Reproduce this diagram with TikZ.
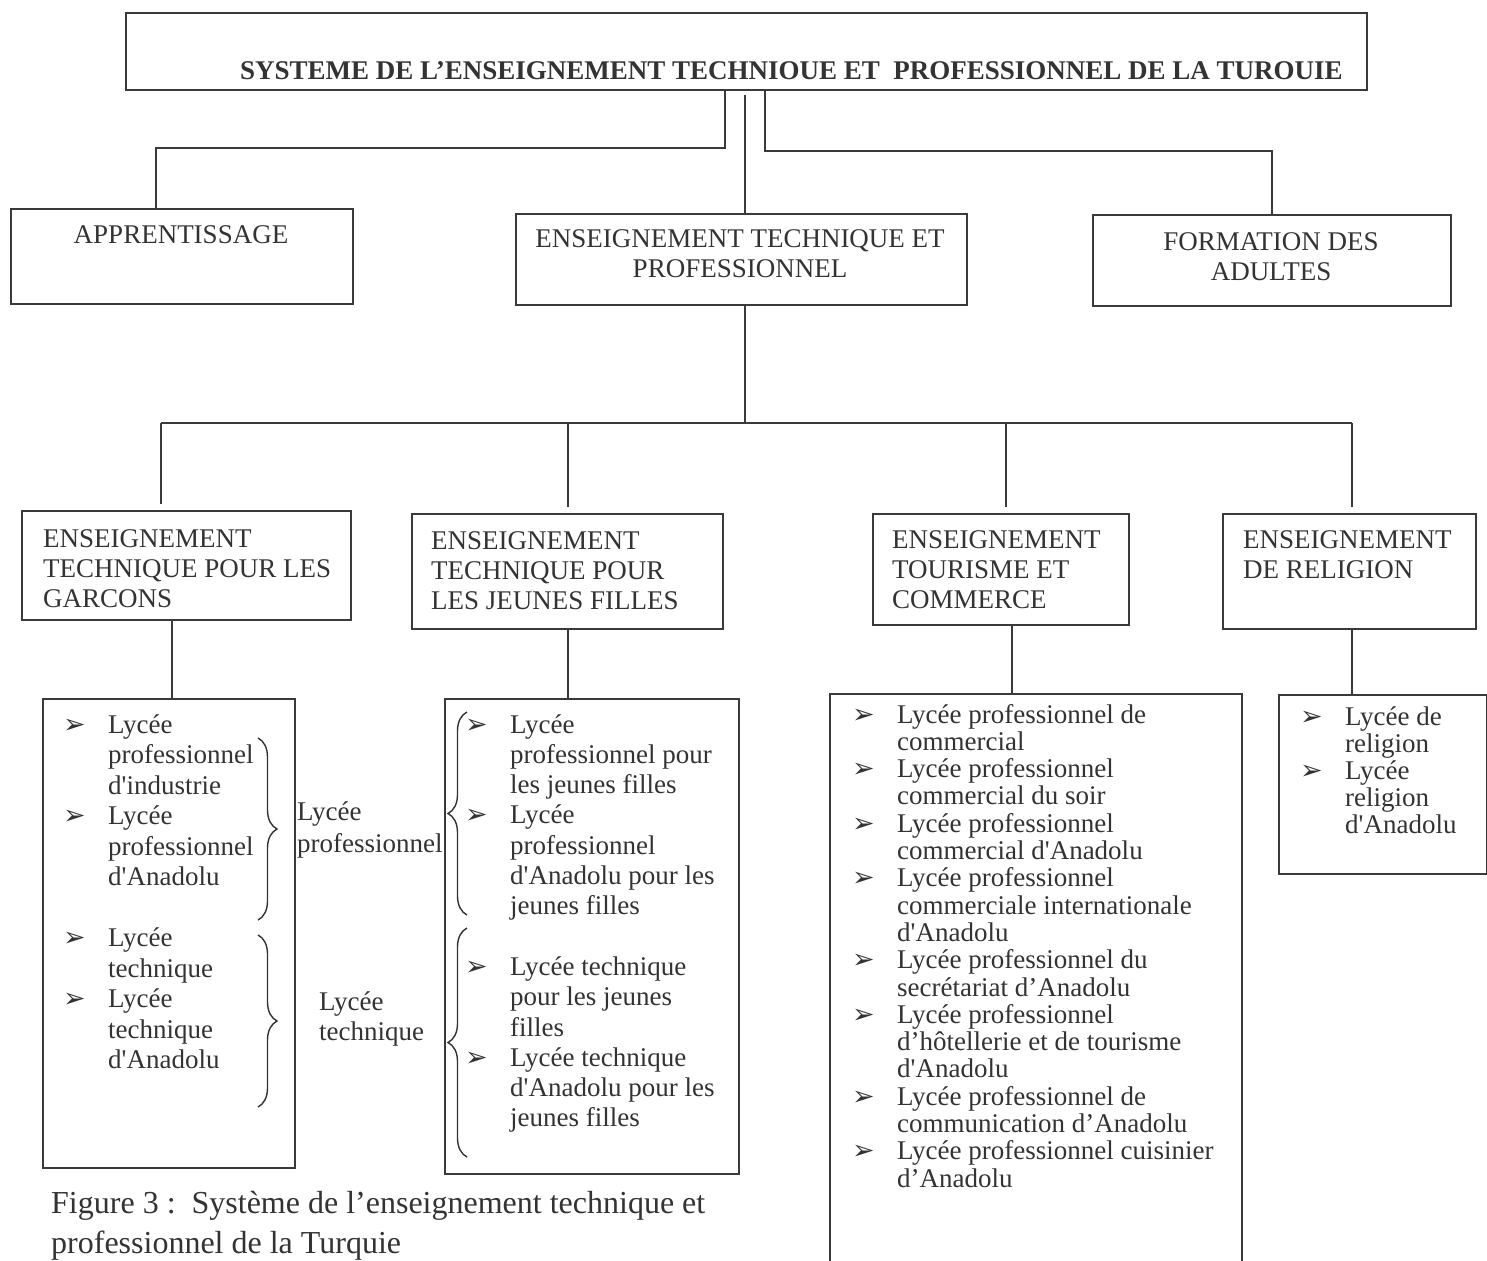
\documentclass[tikz,border=0pt]{standalone}
\usepackage{fontspec}
\setmainfont{Liberation Serif}[Ligatures=TeXOff]
\newfontfamily\dingfont{DejaVu Sans}
\usetikzlibrary{decorations.pathreplacing,calc}
\definecolor{ink}{HTML}{333333}
\definecolor{rule}{HTML}{3A3A3A}
% stacked lines whose first baseline is the node's base line
\newcommand\leftlines[1]{\begin{tabular}[t]{@{}l@{}}#1\end{tabular}}
\newcommand\midlines[1]{\begin{tabular}[t]{@{}c@{}}#1\end{tabular}}
\newcommand\itemlines[1]{\begin{tabular}[t]{@{}l@{}l@{}}#1\end{tabular}}
\newcommand\bul{\makebox[45pt][l]{\raisebox{0pt}{\dingfont\fontsize{27}{27}\selectfont ➢}}}
\begin{document}
\begin{tikzpicture}[x=1pt,y=-1pt,
  box/.style={draw=rule,line width=2pt,rectangle,inner sep=0pt,anchor=north west},
  txt/.style={inner sep=0pt,text=ink,font=\fontsize{27}{30}\selectfont},
  lst/.style={txt,anchor=base west},
  link/.style={draw=rule,line width=2pt},
  curly/.style={draw=ink,line width=1.4pt,decorate,decoration={brace,amplitude=19pt}}]
\useasboundingbox[fill=white] (0,0) rectangle (1487,1260);

% ---------- top level ----------
\node[box,minimum width=1241pt,minimum height=77pt] (top) at (125,12) {};
\node[txt,anchor=base west,font=\fontsize{27}{30}\selectfont\bfseries] (title) at (240,80)
  {SYSTEME DE L’ENSEIGNEMENT TECHNIOUE ET\ \ PROFESSIONNEL DE LA TUROUIE};

% ---------- second level ----------
\node[box,minimum width=342pt,minimum height=95pt] (app) at (10,208) {};
\node[box,minimum width=451pt,minimum height=91pt] (etp) at (515,213) {};
\node[box,minimum width=358pt,minimum height=91pt] (fda) at (1092,214) {};
\node[txt,anchor=base] (appT) at (181,243) {APPRENTISSAGE};
\node[txt,anchor=base] (etpT) at (740,247) {\midlines{ENSEIGNEMENT TECHNIQUE ET\\PROFESSIONNEL}};
\node[txt,anchor=base] (fdaT) at (1271,250) {\midlines{FORMATION DES\\ADULTES}};

\coordinate (ja) at (725,148);
\coordinate (jb) at (156,148);
\coordinate (jm) at (745,95);
\coordinate (jc) at (765,151);
\draw[link] (top.south -| ja) -- (ja) -- (jb) -- (app.north -| jb);
\draw[link] (jm) -- (etp.north -| jm);
\draw[link] (top.south -| jc) -- (jc) -| (fda.north);

% ---------- third level ----------
\node[box,minimum width=329pt,minimum height=109pt] (gar) at (21,510) {};
\node[box,minimum width=311pt,minimum height=115pt] (jf) at (411,513) {};
\node[box,minimum width=256pt,minimum height=111pt] (tc) at (872,513) {};
\node[box,minimum width=253pt,minimum height=115pt] (rel) at (1222,513) {};
\node[lst] (garT) at (43,547) {\leftlines{ENSEIGNEMENT\\TECHNIQUE POUR LES\\GARCONS}};
\node[lst] (jfT) at (431,549) {\leftlines{ENSEIGNEMENT\\TECHNIQUE POUR\\LES JEUNES FILLES}};
\node[lst] (tcT) at (892,548) {\leftlines{ENSEIGNEMENT\\TOURISME ET\\COMMERCE}};
\node[lst] (relT) at (1243,548) {\leftlines{ENSEIGNEMENT\\DE RELIGION}};

\coordinate (bus) at (745,423);
\coordinate (b1) at (161,423);
\coordinate (b2) at (568,423);
\coordinate (b3) at (1006,423);
\coordinate (b4) at (1352,423);
\draw[link] (etp.south -| bus) -- (bus);
\draw[link] (b1) -- (b4);
\draw[link] (b1) -- ($(gar.north -| b1)+(0,-6)$);
\draw[link] (b2) -- ($(jf.north -| b2)+(0,-6)$);
\draw[link] (b3) -- ($(tc.north -| b3)+(0,-6)$);
\draw[link] (b4) -- ($(rel.north -| b4)+(0,-6)$);

% ---------- lists ----------
\node[box,minimum width=252pt,minimum height=469pt] (garL) at (42,698) {};
\node[box,minimum width=294pt,minimum height=475pt] (jfL) at (444,698) {};
\node[box,minimum width=412pt,minimum height=590pt] (tcL) at (829,693) {};
\node[box,minimum width=208pt,minimum height=179pt] (relL) at (1278,694) {};

\coordinate (d1) at (172,0);
\coordinate (d3) at (1012,0);
\draw[link] (gar.south -| d1) -- (garL.north -| d1);
\draw[link] (jf.south -| b2) -- (jfL.north -| b2);
\draw[link] (tc.south -| d3) -- (tcL.north -| d3);
\draw[link] (rel.south -| b4) -- (relL.north -| b4);

\node[lst,font=\fontsize{27}{30.5}\selectfont] (garI) at (63,733) {\itemlines{%
  \bul & Lycée\\ & professionnel\\ & d'industrie\\
  \bul & Lycée\\ & professionnel\\ & d'Anadolu\\ & \\
  \bul & Lycée\\ & technique\\
  \bul & Lycée\\ & technique\\ & d'Anadolu}};
\node[lst,font=\fontsize{27}{30.3}\selectfont] (jfI) at (465,733) {\itemlines{%
  \bul & Lycée\\ & professionnel pour\\ & les jeunes filles\\
  \bul & Lycée\\ & professionnel\\ & d'Anadolu pour les\\ & jeunes filles\\ & \\
  \bul & Lycée technique\\ & pour les jeunes\\ & filles\\
  \bul & Lycée technique\\ & d'Anadolu pour les\\ & jeunes filles}};
\node[lst,font=\fontsize{27}{27.3}\selectfont] (tcI) at (852,723) {\itemlines{%
  \bul & Lycée professionnel de\\ & commercial\\
  \bul & Lycée professionnel\\ & commercial du soir\\
  \bul & Lycée professionnel\\ & commercial d'Anadolu\\
  \bul & Lycée professionnel\\ & commerciale internationale\\ & d'Anadolu\\
  \bul & Lycée professionnel du\\ & secrétariat d’Anadolu\\
  \bul & Lycée professionnel\\ & d’hôtellerie et de tourisme\\ & d'Anadolu\\
  \bul & Lycée professionnel de\\ & communication d’Anadolu\\
  \bul & Lycée professionnel cuisinier\\ & d’Anadolu}};
\node[lst,font=\fontsize{27}{27}\selectfont] (relI) at (1300,725) {\itemlines{%
  \bul & Lycée de\\ & religion\\
  \bul & Lycée\\ & religion\\ & d'Anadolu}};

% ---------- grouping braces ----------
\draw[curly] (258,738) -- (258,920);
\draw[curly] (258,935) -- (258,1107);
\draw[curly] (467,915) -- (467,712);
\draw[curly] (467,1157) -- (467,928);
\node[lst] (grpP) at (297,820) {\leftlines{Lycée\\[2pt]professionnel}};
\node[lst] (grpT) at (319,1010) {\leftlines{Lycée\\technique}};

% ---------- caption ----------
\node[lst,font=\fontsize{32}{40}\selectfont] (cap) at (51,1213)
  {\leftlines{Figure 3 :\ \ Système de l’enseignement technique et\\professionnel de la Turquie}};
\end{tikzpicture}
\end{document}
